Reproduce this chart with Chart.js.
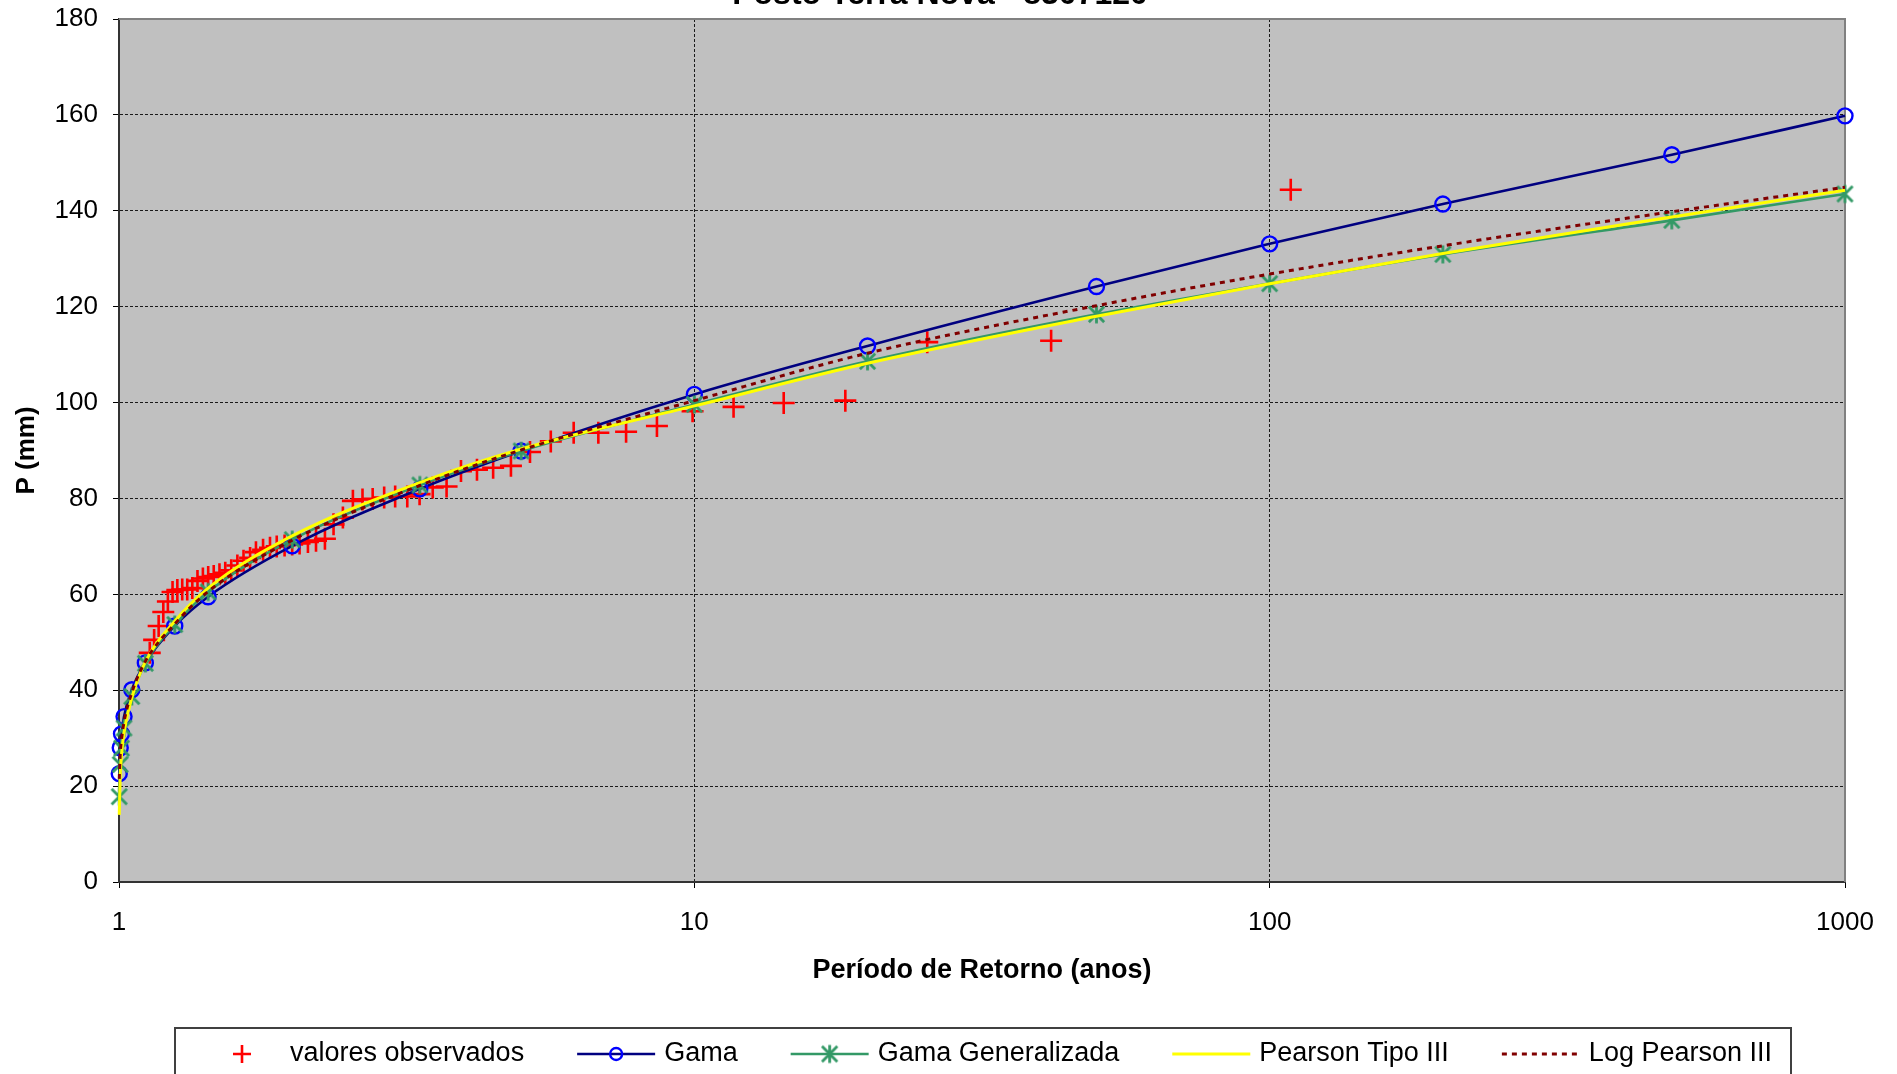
<!DOCTYPE html>
<html>
<head>
<meta charset="utf-8">
<title>Posto Terra Nova</title>
<script src="https://cdn.jsdelivr.net/npm/chart.js@4.4.1/dist/chart.umd.min.js"></script>
<style>
  html, body { margin: 0; padding: 0; background: #fff; overflow: hidden; }
  #wrap { position: relative; width: 1897px; height: 1074px; overflow: hidden; }
  #wrap canvas { position: absolute; left: 0; top: -30px; }
</style>
</head>
<body>
<div id="wrap"><canvas id="chart" width="1897" height="1104"></canvas></div>
<script>
"use strict";

const FONT = "'Liberation Sans', Arial, Helvetica, sans-serif";
const Y_SHIFT = 30; // canvas is lifted so the title gets cut like in the reference

// return periods (anos) used for the fitted distributions
const returnPeriods = [1.001, 1.005, 1.0101, 1.0204, 1.0526, 1.1111, 1.25, 1.4286, 2, 3.3333, 5, 10, 20, 50, 100, 200, 500, 1000];
const gamaValues = [22.6, 28.0, 30.9, 34.5, 40.1, 45.7, 53.4, 59.5, 70.1, 82.0, 89.9, 101.7, 111.8, 124.2, 133.1, 141.4, 151.7, 159.8];
const gamaGenValues = [17.8, 24.5, 27.9, 32.1, 38.7, 45.6, 53.7, 60.5, 71.4, 82.8, 89.9, 99.6, 108.6, 118.4, 124.8, 130.9, 138.0, 143.5];
const pearson3Values = [14.0, 22.3, 26.5, 31.2, 38.4, 45.9, 54.4, 61.3, 72.2, 83.3, 90.3, 99.3, 108.2, 118.0, 124.8, 131.1, 138.7, 144.3];
const logPearson3Values = [21.5, 26.8, 29.7, 33.4, 39.5, 46.0, 53.8, 60.6, 71.3, 82.7, 90.1, 100.4, 110.3, 120.2, 126.8, 132.7, 139.8, 144.9];

// observed annual maxima (P mm) and their plotting return periods
const observedPeriods = [108.8, 41.7, 25.4, 18.3, 14.3, 11.7, 9.93, 8.61, 7.61, 6.81,
  6.17, 5.63, 5.18, 4.80, 4.47, 4.19, 3.93, 3.71, 3.51, 3.33,
  3.17, 3.02, 2.89, 2.76, 2.65, 2.55, 2.45, 2.36, 2.28, 2.20,
  2.13, 2.06, 2.00, 1.94, 1.88, 1.83, 1.78, 1.73, 1.69, 1.646,
  1.606, 1.567, 1.530, 1.495, 1.461, 1.429, 1.399, 1.369, 1.341, 1.314,
  1.288, 1.263, 1.239, 1.216, 1.194, 1.172, 1.151, 1.131];
const observedValues = [144.4, 112.9, 112.6, 100.4, 99.9, 99.1, 98.2, 95.1, 93.9, 93.7,
  93.7, 91.9, 89.7, 86.8, 86.4, 86.0, 85.7, 82.5, 82.3, 80.9,
  80.4, 80.4, 80.2, 79.9, 79.8, 79.5, 76.0, 74.6, 71.6, 71.2,
  70.9, 70.6, 70.4, 70.2, 70.0, 69.7, 69.3, 68.8, 67.6, 67.0,
  66.0, 65.0, 64.5, 64.2, 63.8, 63.6, 63.3, 62.8, 61.3, 61.0,
  61.0, 60.9, 60.5, 58.5, 56.3, 53.4, 50.5, 47.8];

const xTickValues = [1, 10, 100, 1000];
const yMin = 0, yMax = 180, yStep = 20;

const toPoints = (xs, ys) => xs.map((x, i) => ({ x: x, y: ys[i] }));

// excel-like star marker (x with a vertical bar)
function makeStar(color, size, lw) {
  const c = document.createElement("canvas");
  c.width = size;
  c.height = size;
  const g = c.getContext("2d");
  const m = size / 2, r = size / 2 - 1.5, d = r * 0.85;
  g.strokeStyle = color;
  g.lineWidth = lw;
  g.beginPath();
  g.moveTo(m, m - r); g.lineTo(m, m + r);
  g.moveTo(m - d, m - d); g.lineTo(m + d, m + d);
  g.moveTo(m + d, m - d); g.lineTo(m - d, m + d);
  g.stroke();
  return c;
}
const starMarker = makeStar("#339966", 21, 2.8);

const plotFrame = {
  id: "plotFrame",
  beforeDraw(chart) {
    const { ctx, chartArea: a } = chart;
    ctx.save();
    ctx.fillStyle = "#C0C0C0";
    ctx.fillRect(a.left, a.top, a.right - a.left, a.bottom - a.top);
    ctx.restore();
  },
  beforeDatasetsDraw(chart) {
    const { ctx, chartArea: a } = chart;
    ctx.save();
    ctx.strokeStyle = "#808080";
    ctx.lineWidth = 2;
    ctx.beginPath();
    ctx.moveTo(a.left, a.top);
    ctx.lineTo(a.right, a.top);
    ctx.lineTo(a.right, a.bottom);
    ctx.stroke();
    ctx.restore();
  },
};

const boxLegend = {
  id: "boxLegend",
  afterDraw(chart) {
    const ctx = chart.ctx;
    const boxLeft = 175, boxRight = 1791, boxTop = 1028 + Y_SHIFT;
    const rowY = 1054 + Y_SHIFT;
    ctx.save();
    ctx.fillStyle = "#fff";
    ctx.fillRect(boxLeft, boxTop, boxRight - boxLeft, 80);
    ctx.strokeStyle = "#404040";
    ctx.lineWidth = 2;
    ctx.strokeRect(boxLeft, boxTop, boxRight - boxLeft, 80);
    ctx.font = "27px " + FONT;
    ctx.textBaseline = "middle";
    let x = 203;
    chart.data.datasets.forEach((ds) => {
      const x0 = x, x1 = x + 78, xm = (x0 + x1) / 2;
      if (ds.showLine) {
        ctx.save();
        ctx.strokeStyle = ds.borderColor;
        ctx.lineWidth = ds.borderWidth;
        ctx.setLineDash(ds.borderDash || []);
        ctx.beginPath();
        ctx.moveTo(x0, rowY);
        ctx.lineTo(x1, rowY);
        ctx.stroke();
        ctx.restore();
      }
      if (ds.pointRadius > 0) {
        ctx.save();
        ctx.strokeStyle = ds.pointBorderColor;
        ctx.fillStyle = ds.pointBackgroundColor;
        ctx.lineWidth = ds.pointBorderWidth;
        Chart.helpers.drawPoint(ctx, {
          pointStyle: ds.pointStyle,
          radius: ds.legendRadius || ds.pointRadius,
          borderWidth: ds.pointBorderWidth,
          rotation: 0,
        }, xm, rowY);
        ctx.restore();
      }
      ctx.fillStyle = "#000";
      ctx.fillText(ds.label, x1 + 9, rowY);
      x = x1 + 9 + ctx.measureText(ds.label).width + 53;
    });
    ctx.restore();
  },
};

const ctx = document.getElementById("chart");

new Chart(ctx, {
  type: "scatter",
  data: {
    datasets: [
      {
        label: "valores observados",
        data: toPoints(observedPeriods, observedValues),
        showLine: false,
        pointStyle: "cross",
        pointRadius: 11,
        legendRadius: 9,
        pointBorderWidth: 2.6,
        pointBorderColor: "#FF0000",
        pointBackgroundColor: "#FF0000",
        borderColor: "#FF0000",
        clip: false,
        order: 5,
      },
      {
        label: "Gama",
        data: toPoints(returnPeriods, gamaValues),
        showLine: true,
        borderColor: "#000080",
        borderWidth: 2.6,
        cubicInterpolationMode: "monotone",
        pointStyle: "circle",
        pointRadius: 7.5,
        legendRadius: 6,
        pointBorderWidth: 2.4,
        pointBorderColor: "#0000FF",
        pointBackgroundColor: "rgba(0,0,0,0)",
        clip: false,
        order: 4,
      },
      {
        label: "Gama Generalizada",
        data: toPoints(returnPeriods, gamaGenValues),
        showLine: true,
        borderColor: "#339966",
        borderWidth: 2.6,
        cubicInterpolationMode: "monotone",
        pointStyle: starMarker,
        pointRadius: 9,
        pointBorderWidth: 2,
        pointBorderColor: "#339966",
        pointBackgroundColor: "#339966",
        clip: false,
        order: 3,
      },
      {
        label: "Pearson Tipo III",
        data: toPoints(returnPeriods, pearson3Values),
        showLine: true,
        borderColor: "#FFFF00",
        borderWidth: 3,
        cubicInterpolationMode: "monotone",
        pointRadius: 0,
        clip: false,
        order: 2,
      },
      {
        label: "Log Pearson III",
        data: toPoints(returnPeriods, logPearson3Values),
        showLine: true,
        borderColor: "#800000",
        borderWidth: 3,
        borderDash: [5, 5],
        cubicInterpolationMode: "monotone",
        pointRadius: 0,
        clip: false,
        order: 1,
      },
    ],
  },
  options: {
    responsive: false,
    animation: false,
    events: [],
    layout: { padding: { left: 35, right: 52, top: 0, bottom: 0 } },
    plugins: {
      legend: { display: false },
      tooltip: { enabled: false },
      title: {
        display: true,
        text: "Posto Terra Nova - 8307120",
        color: "#000",
        font: { family: FONT, size: 32, weight: "bold" },
        padding: { top: 6, bottom: 4.6 },
      },
    },
    scales: {
      x: {
        type: "logarithmic",
        min: 1,
        max: 1000,
        afterBuildTicks: (scale) => {
          scale.ticks = xTickValues.map((v) => ({ value: v }));
        },
        afterFit: (scale) => {
          scale.height = 192;
        },
        ticks: {
          autoSkip: false,
          maxRotation: 0,
          padding: 19,
          color: "#000",
          font: { family: FONT, size: 26 },
          callback: (v) => String(v),
        },
        grid: { color: "#1a1a1a", lineWidth: 1, tickLength: 6, tickColor: "#000", tickWidth: 1 },
        border: { display: true, color: "#333", width: 2, dash: [3, 2] },
        title: {
          display: true,
          text: "Período de Retorno (anos)",
          color: "#000",
          font: { family: FONT, size: 27, weight: "bold" },
          padding: { top: 0, bottom: 87.5 },
        },
      },
      y: {
        min: yMin,
        max: yMax,
        afterFit: (scale) => {
          scale.width = 84;
        },
        ticks: {
          stepSize: yStep,
          padding: 15,
          color: "#000",
          font: { family: FONT, size: 26 },
        },
        grid: { color: "#1a1a1a", lineWidth: 1, tickLength: 6, tickColor: "#000", tickWidth: 1 },
        border: { display: true, color: "#333", width: 2, dash: [3, 2] },
        title: {
          display: true,
          text: "P (mm)",
          color: "#000",
          font: { family: FONT, size: 26, weight: "bold" },
          padding: { top: -23.6, bottom: 0 },
        },
      },
    },
  },
  plugins: [plotFrame, boxLegend],
});
</script>
</body>
</html>
